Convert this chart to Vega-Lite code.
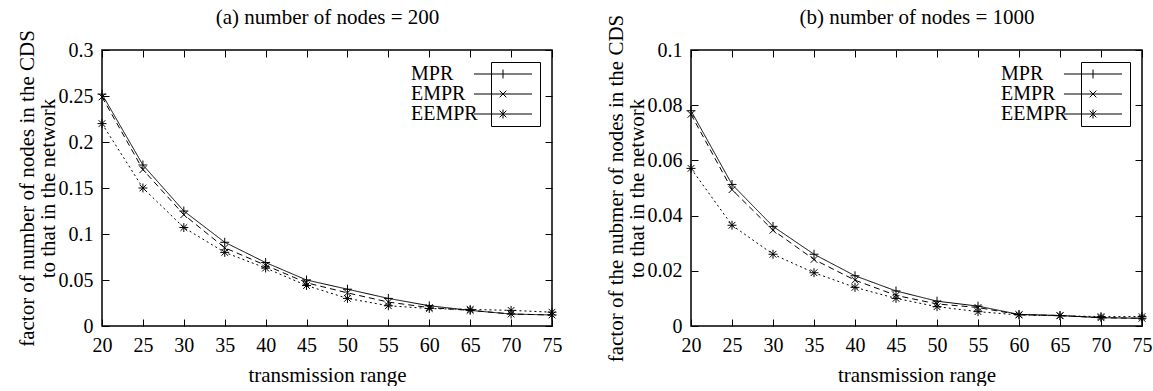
{
  "$schema": "https://vega.github.io/schema/vega-lite/v6.json",
  "padding": {"left": 15, "top": 5, "right": 0, "bottom": 0},
  "spacing": 31,
  "datasets": {
    "a": [
      {"range": 20, "series": "MPR", "value": 0.252}, {"range": 25, "series": "MPR", "value": 0.175}, {"range": 30, "series": "MPR", "value": 0.125}, {"range": 35, "series": "MPR", "value": 0.091}, {"range": 40, "series": "MPR", "value": 0.069}, {"range": 45, "series": "MPR", "value": 0.050}, {"range": 50, "series": "MPR", "value": 0.040}, {"range": 55, "series": "MPR", "value": 0.030}, {"range": 60, "series": "MPR", "value": 0.022}, {"range": 65, "series": "MPR", "value": 0.017}, {"range": 70, "series": "MPR", "value": 0.013}, {"range": 75, "series": "MPR", "value": 0.012},
      {"range": 20, "series": "EMPR", "value": 0.249}, {"range": 25, "series": "EMPR", "value": 0.170}, {"range": 30, "series": "EMPR", "value": 0.121}, {"range": 35, "series": "EMPR", "value": 0.085}, {"range": 40, "series": "EMPR", "value": 0.066}, {"range": 45, "series": "EMPR", "value": 0.047}, {"range": 50, "series": "EMPR", "value": 0.036}, {"range": 55, "series": "EMPR", "value": 0.026}, {"range": 60, "series": "EMPR", "value": 0.020}, {"range": 65, "series": "EMPR", "value": 0.017}, {"range": 70, "series": "EMPR", "value": 0.013}, {"range": 75, "series": "EMPR", "value": 0.012},
      {"range": 20, "series": "EEMPR", "value": 0.220}, {"range": 25, "series": "EEMPR", "value": 0.150}, {"range": 30, "series": "EEMPR", "value": 0.107}, {"range": 35, "series": "EEMPR", "value": 0.080}, {"range": 40, "series": "EEMPR", "value": 0.063}, {"range": 45, "series": "EEMPR", "value": 0.044}, {"range": 50, "series": "EEMPR", "value": 0.030}, {"range": 55, "series": "EEMPR", "value": 0.022}, {"range": 60, "series": "EEMPR", "value": 0.019}, {"range": 65, "series": "EEMPR", "value": 0.018}, {"range": 70, "series": "EEMPR", "value": 0.017}, {"range": 75, "series": "EEMPR", "value": 0.015}
    ],
    "b": [
      {"range": 20, "series": "MPR", "value": 0.078}, {"range": 25, "series": "MPR", "value": 0.0513}, {"range": 30, "series": "MPR", "value": 0.0361}, {"range": 35, "series": "MPR", "value": 0.026}, {"range": 40, "series": "MPR", "value": 0.0182}, {"range": 45, "series": "MPR", "value": 0.0127}, {"range": 50, "series": "MPR", "value": 0.009}, {"range": 55, "series": "MPR", "value": 0.0072}, {"range": 60, "series": "MPR", "value": 0.0042}, {"range": 65, "series": "MPR", "value": 0.0038}, {"range": 70, "series": "MPR", "value": 0.003}, {"range": 75, "series": "MPR", "value": 0.0028},
      {"range": 20, "series": "EMPR", "value": 0.0767}, {"range": 25, "series": "EMPR", "value": 0.0494}, {"range": 30, "series": "EMPR", "value": 0.0347}, {"range": 35, "series": "EMPR", "value": 0.0241}, {"range": 40, "series": "EMPR", "value": 0.0166}, {"range": 45, "series": "EMPR", "value": 0.0111}, {"range": 50, "series": "EMPR", "value": 0.008}, {"range": 55, "series": "EMPR", "value": 0.0067}, {"range": 60, "series": "EMPR", "value": 0.0041}, {"range": 65, "series": "EMPR", "value": 0.0038}, {"range": 70, "series": "EMPR", "value": 0.003}, {"range": 75, "series": "EMPR", "value": 0.0028},
      {"range": 20, "series": "EEMPR", "value": 0.0571}, {"range": 25, "series": "EEMPR", "value": 0.0365}, {"range": 30, "series": "EEMPR", "value": 0.026}, {"range": 35, "series": "EEMPR", "value": 0.0193}, {"range": 40, "series": "EEMPR", "value": 0.014}, {"range": 45, "series": "EEMPR", "value": 0.010}, {"range": 50, "series": "EEMPR", "value": 0.007}, {"range": 55, "series": "EEMPR", "value": 0.0052}, {"range": 60, "series": "EEMPR", "value": 0.004}, {"range": 65, "series": "EEMPR", "value": 0.0037}, {"range": 70, "series": "EEMPR", "value": 0.0034}, {"range": 75, "series": "EEMPR", "value": 0.0034}
    ]
  },
  "hconcat": [
    {
      "width": 450, "height": 276,
      "data": {"name": "a"},
      "layer": [
        {
          "mark": {"type": "line", "color": "black", "strokeWidth": 1},
          "encoding": {
            "x": {"field": "range", "type": "quantitative", "scale": {"domain": [20, 75], "nice": false}, "axis": {"values": [20,25,30,35,40,45,50,55,60,65,70,75], "title": "transmission range", "titlePadding": 9, "titleFont": "Liberation Serif", "titleFontWeight": "normal"}},
            "y": {"field": "value", "type": "quantitative", "scale": {"domain": [0, 0.3], "nice": false}, "axis": {"values": [0,0.05,0.1,0.15,0.2,0.25,0.3], "format": "~g", "title": ["factor of number of nodes in the CDS", "to that in the network"], "titlePadding": 0, "titleFont": "Liberation Serif", "titleFontWeight": "normal"}},
            "strokeDash": {"field": "series", "type": "nominal", "scale": {"domain": ["MPR", "EMPR", "EEMPR"], "range": [[1, 0], [6, 4], [2, 3]]}, "legend": null}
          }
        },
        {
          "mark": {"type": "point", "filled": false, "stroke": "black", "strokeWidth": 1, "size": 80, "opacity": 1},
          "encoding": {
            "x": {"field": "range", "type": "quantitative", "scale": {"domain": [20, 75], "nice": false}, "axis": {"orient": "top", "values": [20,25,30,35,40,45,50,55,60,65,70,75], "labels": false, "title": "(a) number of nodes = 200", "titlePadding": 22, "titleFont": "Liberation Serif", "titleFontWeight": "normal"}},
            "y": {"field": "value", "type": "quantitative", "scale": {"domain": [0, 0.3], "nice": false}, "axis": {"orient": "right", "values": [0,0.05,0.1,0.15,0.2,0.25,0.3], "labels": false, "title": null}},
            "shape": {"field": "series", "type": "nominal", "scale": {"domain": ["MPR", "EMPR", "EEMPR"], "range": ["M-1,0L1,0M0,-1L0,1", "M-0.75,-0.75L0.75,0.75M-0.75,0.75L0.75,-0.75", "M-1,0L1,0M0,-1L0,1M-0.75,-0.75L0.75,0.75M-0.75,0.75L0.75,-0.75"]}, "legend": null}
          }
        },
        {
          "mark": {"type": "point", "filled": false, "stroke": "black", "strokeWidth": 1, "opacity": 0},
          "encoding": {
            "x": {"field": "range", "type": "quantitative", "axis": null},
            "y": {"field": "value", "type": "quantitative", "axis": null},
            "shape": {"field": "series", "type": "nominal", "title": null, "scale": {"domain": ["MPR", "EMPR", "EEMPR"], "range": ["M-6.5,0L6.5,0M0,-1L0,1M7.2,0", "M-6.5,0L6.5,0M-0.75,-0.75L0.75,0.75M-0.75,0.75L0.75,-0.75M7.2,0", "M-6.5,0L6.5,0M0,-1L0,1M-0.75,-0.75L0.75,0.75M-0.75,0.75L0.75,-0.75M7.2,0"]},
              "legend": {"orient": "top-right", "offset": 12, "symbolOpacity": 1, "symbolSize": 80, "symbolStrokeColor": "black", "symbolStrokeWidth": 1, "labelAlign": "left", "labelOffset": -102,
                "encode": {"symbols": {"update": {"strokeDash": {"signal": "datum.label === 'MPR' ? [1,0] : datum.label === 'EMPR' ? [6,4] : [2,3]"}}}, "legend": {"enter": {"strokeDash": {"value": [3, 3]}}, "update": {"strokeDash": {"value": [3, 3]}}}}}}
          }
        }
      ],
      "resolve": {"axis": {"x": "independent", "y": "independent"}, "scale": {"shape": "independent"}}
    },
    {
      "width": 451, "height": 276,
      "data": {"name": "b"},
      "layer": [
        {
          "mark": {"type": "line", "color": "black", "strokeWidth": 1},
          "encoding": {
            "x": {"field": "range", "type": "quantitative", "scale": {"domain": [20, 75], "nice": false}, "axis": {"values": [20,25,30,35,40,45,50,55,60,65,70,75], "title": "transmission range", "titlePadding": 9, "titleFont": "Liberation Serif", "titleFontWeight": "normal"}},
            "y": {"field": "value", "type": "quantitative", "scale": {"domain": [0, 0.1], "nice": false}, "axis": {"values": [0,0.02,0.04,0.06,0.08,0.1], "format": "~g", "title": ["factor of the nubmer of nodes in the CDS", "to that in the network"], "titlePadding": 0, "titleFont": "Liberation Serif", "titleFontWeight": "normal"}},
            "strokeDash": {"field": "series", "type": "nominal", "scale": {"domain": ["MPR", "EMPR", "EEMPR"], "range": [[1, 0], [6, 4], [2, 3]]}, "legend": null}
          }
        },
        {
          "mark": {"type": "point", "filled": false, "stroke": "black", "strokeWidth": 1, "size": 80, "opacity": 1},
          "encoding": {
            "x": {"field": "range", "type": "quantitative", "scale": {"domain": [20, 75], "nice": false}, "axis": {"orient": "top", "values": [20,25,30,35,40,45,50,55,60,65,70,75], "labels": false, "title": "(b) number of nodes = 1000", "titlePadding": 22, "titleFont": "Liberation Serif", "titleFontWeight": "normal"}},
            "y": {"field": "value", "type": "quantitative", "scale": {"domain": [0, 0.1], "nice": false}, "axis": {"orient": "right", "values": [0,0.02,0.04,0.06,0.08,0.1], "labels": false, "title": null}},
            "shape": {"field": "series", "type": "nominal", "scale": {"domain": ["MPR", "EMPR", "EEMPR"], "range": ["M-1,0L1,0M0,-1L0,1", "M-0.75,-0.75L0.75,0.75M-0.75,0.75L0.75,-0.75", "M-1,0L1,0M0,-1L0,1M-0.75,-0.75L0.75,0.75M-0.75,0.75L0.75,-0.75"]}, "legend": null}
          }
        },
        {
          "mark": {"type": "point", "filled": false, "stroke": "black", "strokeWidth": 1, "opacity": 0},
          "encoding": {
            "x": {"field": "range", "type": "quantitative", "axis": null},
            "y": {"field": "value", "type": "quantitative", "axis": null},
            "shape": {"field": "series", "type": "nominal", "title": null, "scale": {"domain": ["MPR", "EMPR", "EEMPR"], "range": ["M-6.5,0L6.5,0M0,-1L0,1M7.2,0", "M-6.5,0L6.5,0M-0.75,-0.75L0.75,0.75M-0.75,0.75L0.75,-0.75M7.2,0", "M-6.5,0L6.5,0M0,-1L0,1M-0.75,-0.75L0.75,0.75M-0.75,0.75L0.75,-0.75M7.2,0"]},
              "legend": {"orient": "top-right", "offset": 12, "symbolOpacity": 1, "symbolSize": 80, "symbolStrokeColor": "black", "symbolStrokeWidth": 1, "labelAlign": "left", "labelOffset": -102,
                "encode": {"symbols": {"update": {"strokeDash": {"signal": "datum.label === 'MPR' ? [1,0] : datum.label === 'EMPR' ? [6,4] : [2,3]"}}}, "legend": {"enter": {"strokeDash": {"value": [3, 3]}}, "update": {"strokeDash": {"value": [3, 3]}}}}}}
          }
        }
      ],
      "resolve": {"axis": {"x": "independent", "y": "independent"}, "scale": {"shape": "independent"}}
    }
  ],
  "config": {
    "font": "Liberation Serif",
    "view": {"stroke": "black", "strokeWidth": 1.5},
    "style": {"guide-title": {"font": "Liberation Serif", "fontWeight": "normal"}, "guide-label": {"font": "Liberation Serif"}},
    "axis": {"domain": false, "grid": false, "tickColor": "black", "tickSize": -7, "tickWidth": 1, "labelFont": "Liberation Serif", "labelFontSize": 20, "labelColor": "black", "labelPadding": 16, "titleFont": "Liberation Serif", "titleFontSize": 21, "titleFontWeight": "normal", "titleColor": "black", "titleLineHeight": 21, "titlePadding": 4, "labelFlush": false, "labelOverlap": false},
    "legend": {"labelFont": "Liberation Serif", "labelFontSize": 20, "labelColor": "black", "strokeColor": "black", "strokeWidth": 1, "padding": 2, "rowPadding": 0}
  }
}
